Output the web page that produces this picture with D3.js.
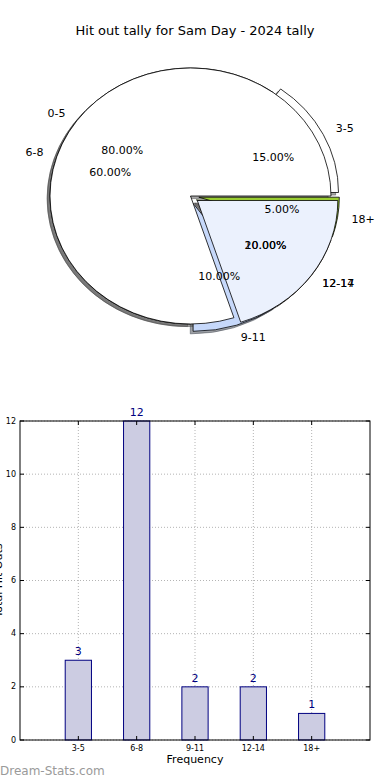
<!DOCTYPE html>
<html>
<head>
<meta charset="utf-8">
<script src="https://d3js.org/d3.v7.min.js"></script>
<style>
body { margin: 0; background: #fff; }
svg text { font-family: 'DejaVu Sans', sans-serif; }
</style>
</head>
<body>
<svg id="chart" width="390" height="780"></svg>
<script>
// pie drawn on top
const pieA_labels = ['0-5', '12-17'];
const pieA_values = [80, 20];
const pieA_explode = [0, 0.06];
const pieA_colors = ['#ffffff', '#ebf1fd'];

// pie underneath
const pieB_labels = ['3-5', '6-8', '9-11', '12-14', '18+'];
const pieB_values = [3, 12, 2, 2, 1];
const pieB_explode = [0.06, 0, 0.06, 0.06, 0.06];
const pieB_colors = ['#ffffff', '#ffffff', '#c6d8fa', '#fdd9b5', '#9acd32'];

// bar chart
const bar_cats = ['3-5', '6-8', '9-11', '12-14', '18+'];
const bar_values = [3, 12, 2, 2, 1];
const y_ticks = [0, 2, 4, 6, 8, 10, 12];

const svg = d3.select('#chart');

svg.append('text')
   .attr('x', 195).attr('y', 35)
   .attr('text-anchor', 'middle')
   .style('font-size', '13px')
   .text('Hit out tally for Sam Day - 2024 tally');

// ---- pie ----
const cx = 190.5, cy = 196, rx = 140.5, ry = 128;
const arc = d3.arc().innerRadius(0).outerRadius(1);
const pieLayout = d3.pie().sort(null)
    .startAngle(Math.PI / 2)
    .endAngle(Math.PI / 2 - 2 * Math.PI);

var pieGroup = svg.append('g')
    .attr('transform', 'translate(' + cx + ',' + cy + ') scale(' + rx + ',' + ry + ')');
var shadowLayer = pieGroup.append('g');
var wedgeLayer = pieGroup.append('g');
var textGroup = svg.append('g');

function shadowColor(c) {
    const r = d3.rgb(c);
    return d3.rgb(r.r * 0.3, r.g * 0.3, r.b * 0.3);
}

function drawPie(labels, values, explode, colors) {
    const total = d3.sum(values);
    const arcs = pieLayout(values);
    arcs.forEach(function(d, i) {
        d.mid = (d.startAngle + d.endAngle) / 2;
        d.ox = explode[i] * Math.sin(d.mid);
        d.oy = -explode[i] * Math.cos(d.mid);
        d.i = i;
    });

    // shadows sit under every wedge
    shadowLayer.append('g').selectAll('path')
        .data(arcs).join('path')
        .attr('d', arc)
        .attr('transform', d => 'translate(' + (d.ox - 0.02) + ',' + (d.oy + 0.02) + ')')
        .attr('fill', d => shadowColor(colors[d.i]))
        .attr('fill-opacity', 0.5)
        .attr('stroke', d => shadowColor(colors[d.i]))
        .attr('stroke-opacity', 0.5)
        .attr('stroke-width', 1)
        .attr('vector-effect', 'non-scaling-stroke');

    wedgeLayer.append('g').selectAll('path')
        .data(arcs).join('path')
        .attr('d', arc)
        .attr('transform', d => 'translate(' + d.ox + ',' + d.oy + ')')
        .attr('fill', d => colors[d.i])
        .attr('stroke', 'black')
        .attr('stroke-width', 0.8)
        .attr('vector-effect', 'non-scaling-stroke');

    arcs.forEach(function(d) {
        const sx = Math.sin(d.mid), sy = -Math.cos(d.mid);
        textGroup.append('text')
            .attr('x', cx + (d.ox + 1.1 * sx) * rx)
            .attr('y', cy + (d.oy + 1.1 * sy) * ry)
            .attr('text-anchor', sx > 0 ? 'start' : 'end')
            .attr('dominant-baseline', 'central')
            .style('font-size', '11px')
            .text(labels[d.i]);
        textGroup.append('text')
            .attr('x', cx + (d.ox + 0.6 * sx) * rx)
            .attr('y', cy + (d.oy + 0.6 * sy) * ry)
            .attr('text-anchor', 'middle')
            .attr('dominant-baseline', 'central')
            .style('font-size', '11px')
            .text((d.value / total * 100).toFixed(2) + '%');
    });
}

drawPie(pieB_labels, pieB_values, pieB_explode, pieB_colors);
drawPie(pieA_labels, pieA_values, pieA_explode, pieA_colors);
textGroup.raise();

// ---- bars ----
const bx0 = 20, bx1 = 370, by0 = 421, by1 = 740;
const x = d3.scaleLinear().domain([0, bar_cats.length + 1]).range([bx0, bx1]);
const y = d3.scaleLinear().domain([0, 12]).range([by1, by0]);
const barW = x(0.45) - x(0);

var bar_g = svg.append('g');

// grid
bar_g.selectAll('line.hgrid').data(y_ticks).join('line')
    .attr('x1', bx0).attr('x2', bx1)
    .attr('y1', d => y(d)).attr('y2', d => y(d))
    .attr('stroke', '#b4b4b4').attr('stroke-dasharray', '1,2');
bar_g.selectAll('line.vgrid').data(bar_cats).join('line')
    .attr('x1', (d, i) => x(i + 1)).attr('x2', (d, i) => x(i + 1))
    .attr('y1', by0).attr('y2', by1)
    .attr('stroke', '#b4b4b4').attr('stroke-dasharray', '1,2');

bar_g.selectAll('rect.bar').data(bar_values).join('rect')
    .attr('x', (d, i) => x(i + 1) - barW / 2)
    .attr('y', d => y(d))
    .attr('width', barW)
    .attr('height', d => y(0) - y(d))
    .attr('fill', '#ccccE2')
    .attr('stroke', '#000080')
    .attr('stroke-width', 1);

bar_g.selectAll('text.val').data(bar_values).join('text')
    .attr('x', (d, i) => x(i + 1))
    .attr('y', d => y(d) - 5)
    .attr('text-anchor', 'middle')
    .attr('fill', '#000080')
    .style('font-size', '11px')
    .text(d => d);

// frame
bar_g.append('rect')
    .attr('x', bx0).attr('y', by0)
    .attr('width', bx1 - bx0).attr('height', by1 - by0)
    .attr('fill', 'none').attr('stroke', 'black').attr('stroke-width', 1);

// ticks (inward, all four sides)
y_ticks.forEach(function(t) {
    bar_g.append('line').attr('x1', bx0).attr('x2', bx0 + 4)
        .attr('y1', y(t)).attr('y2', y(t)).attr('stroke', 'black');
    bar_g.append('line').attr('x1', bx1 - 4).attr('x2', bx1)
        .attr('y1', y(t)).attr('y2', y(t)).attr('stroke', 'black');
    bar_g.append('text').attr('x', bx0 - 4).attr('y', y(t))
        .attr('text-anchor', 'end').attr('dominant-baseline', 'central')
        .style('font-size', '8px').text(t);
});
bar_cats.forEach(function(c, i) {
    bar_g.append('line').attr('x1', x(i + 1)).attr('x2', x(i + 1))
        .attr('y1', by1).attr('y2', by1 - 4).attr('stroke', 'black');
    bar_g.append('line').attr('x1', x(i + 1)).attr('x2', x(i + 1))
        .attr('y1', by0).attr('y2', by0 + 4).attr('stroke', 'black');
    bar_g.append('text').attr('x', x(i + 1)).attr('y', 751)
        .attr('text-anchor', 'middle')
        .style('font-size', '8px').text(c);
});

bar_g.append('text')
    .attr('x', (bx0 + bx1) / 2).attr('y', 763)
    .attr('text-anchor', 'middle')
    .style('font-size', '11px')
    .text('Frequency');

// axis label sits mostly off the left edge, as in the source image
bar_g.append('text')
    .attr('transform', 'translate(1.5,' + ((by0 + by1) / 2) + ') rotate(-90)')
    .attr('text-anchor', 'middle')
    .style('font-size', '11px')
    .text('Total Hit Outs');

svg.append('text')
    .attr('x', 0).attr('y', 775)
    .attr('fill', '#9a9a9a')
    .style('font-size', '12px')
    .text('Dream-Stats.com');
</script>
</body>
</html>
